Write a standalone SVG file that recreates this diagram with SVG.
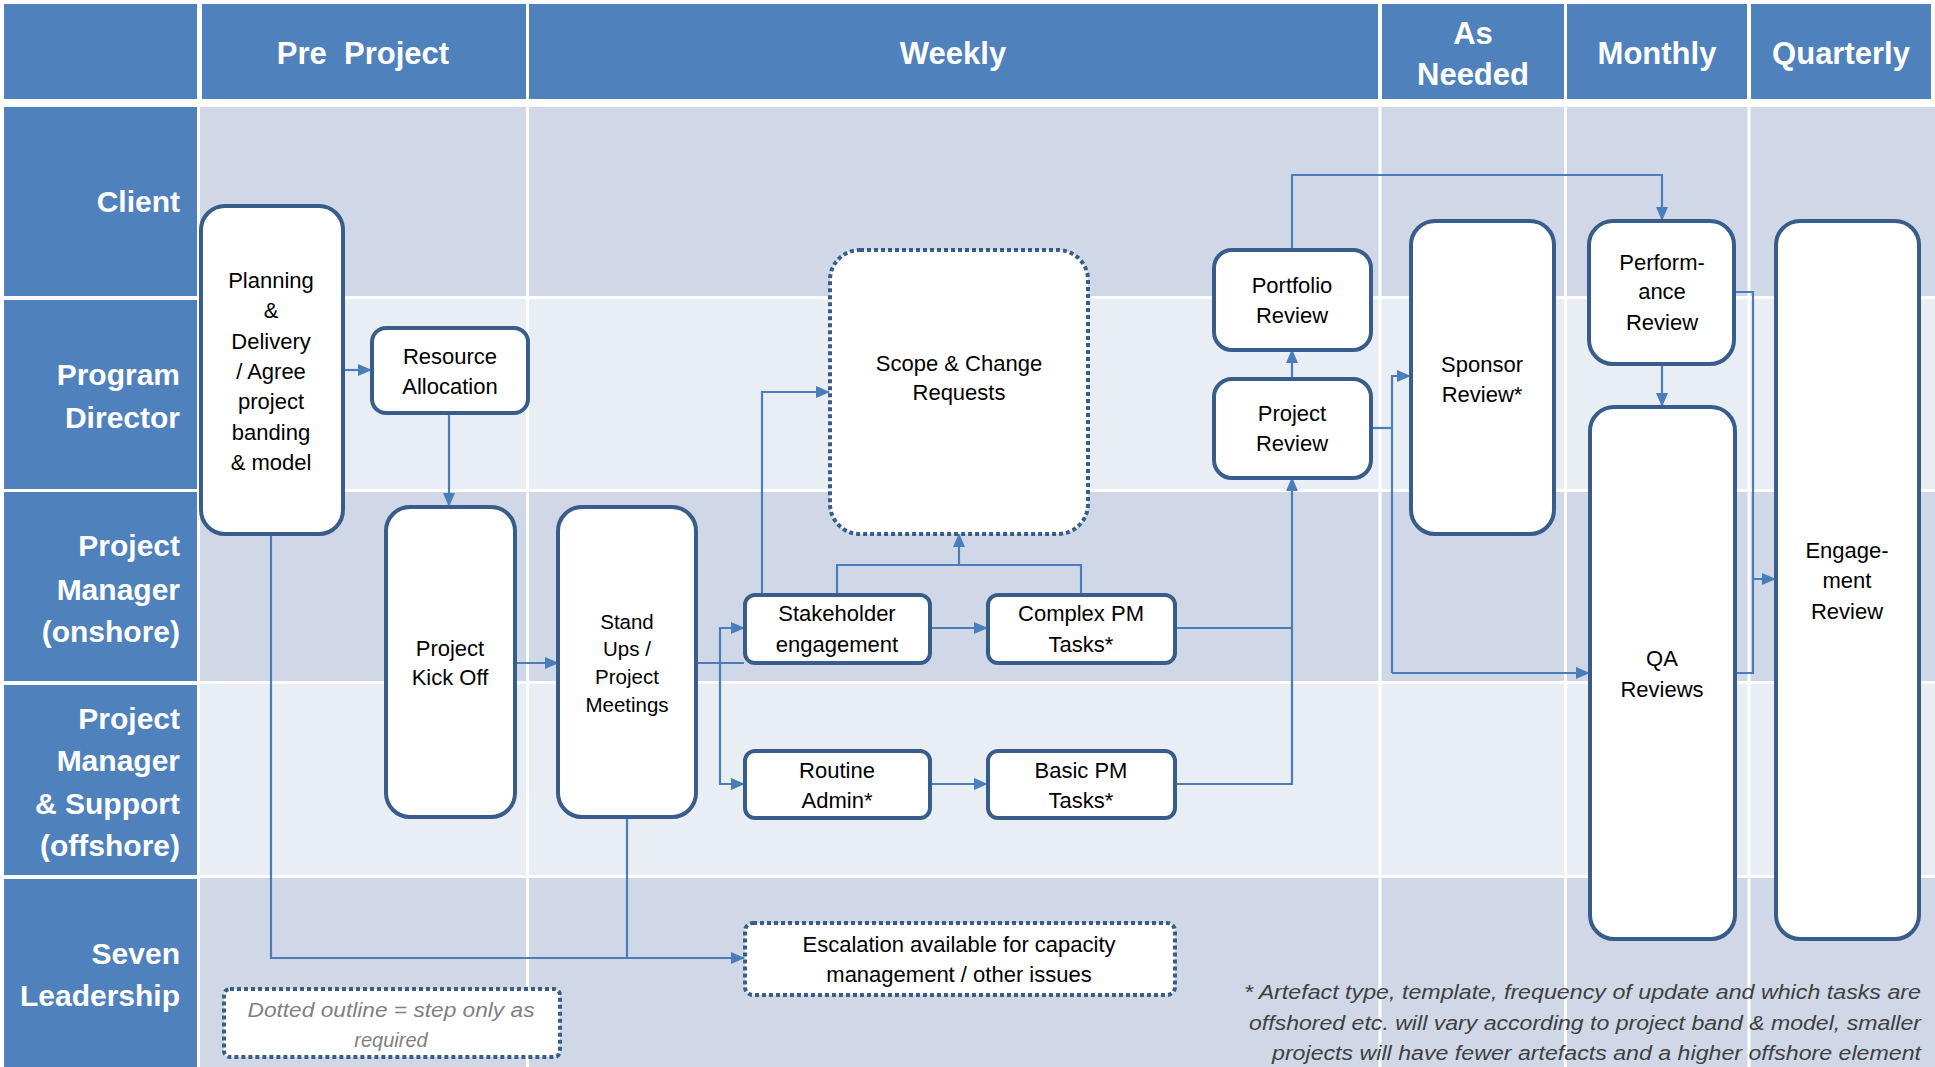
<svg xmlns="http://www.w3.org/2000/svg" width="1935" height="1067" viewBox="0 0 1935 1067">
<defs>
<style>
.hdr{fill:#4F81BD}
.dk{fill:#D0D8E8}
.lt{fill:#E9EDF4}
.ht{font-family:"Liberation Sans",Arial,sans-serif;font-weight:bold;font-size:31px;fill:#fff;text-anchor:middle}
.rl{font-family:"Liberation Sans",Arial,sans-serif;font-weight:bold;font-size:30px;fill:#fff;text-anchor:end}
.box{fill:#fff;stroke:#385D8A;stroke-width:4}
.dot{fill:#fff;stroke:#385D8A;stroke-width:4;stroke-dasharray:4 3}
.nt{font-family:"Liberation Sans",Arial,sans-serif;font-size:22px;fill:#000;text-anchor:middle}
.sm{font-size:20.5px}
.con{fill:none;stroke:#4A7EBB;stroke-width:2.2}
.note{font-family:"Liberation Sans",Arial,sans-serif;font-style:italic;font-size:20px;fill:#404040;text-anchor:end}
.leg{font-family:"Liberation Sans",Arial,sans-serif;font-style:italic;font-size:20px;fill:#808080;text-anchor:middle}
</style>
<marker id="ah" markerUnits="userSpaceOnUse" markerWidth="14" markerHeight="14" viewBox="0 0 14 14" refX="13" refY="7" orient="auto">
<path d="M0,1 L14,7 L0,13 z" fill="#4A7EBB"/>
</marker>
</defs>
<rect width="1935" height="1067" fill="#fff"/>
<g id="grid">
<rect class="hdr" x="4" y="4" width="193" height="95"/>
<rect class="hdr" x="202" y="4" width="324" height="95"/>
<rect class="hdr" x="529" y="4" width="849" height="95"/>
<rect class="hdr" x="1382" y="4" width="182" height="95"/>
<rect class="hdr" x="1567" y="4" width="180" height="95"/>
<rect class="hdr" x="1751" y="4" width="180" height="95"/>
<rect class="hdr" x="4" y="107" width="193" height="189"/>
<rect class="hdr" x="4" y="300" width="193" height="189"/>
<rect class="hdr" x="4" y="492" width="193" height="189"/>
<rect class="hdr" x="4" y="685" width="193" height="190"/>
<rect class="hdr" x="4" y="879" width="193" height="188"/>
<rect class="dk" x="200" y="107" width="1735" height="189"/>
<rect class="lt" x="200" y="299" width="1735" height="190"/>
<rect class="dk" x="200" y="492" width="1735" height="189"/>
<rect class="lt" x="200" y="684" width="1735" height="191"/>
<rect class="dk" x="200" y="878" width="1735" height="189"/>
<g stroke="#fff" stroke-width="3">
<line x1="527.5" y1="107" x2="527.5" y2="1067"/>
<line x1="1380" y1="107" x2="1380" y2="1067"/>
<line x1="1565.5" y1="107" x2="1565.5" y2="1067"/>
<line x1="1749" y1="107" x2="1749" y2="1067"/>
</g>
<text class="ht" x="363" y="64" xml:space="preserve" style="white-space:pre">Pre  Project</text>
<text class="ht" x="953" y="64">Weekly</text>
<text class="ht" x="1473" y="44">As</text>
<text class="ht" x="1473" y="85">Needed</text>
<text class="ht" x="1657" y="64">Monthly</text>
<text class="ht" x="1841" y="64">Quarterly</text>
<text class="rl" x="180" y="212">Client</text>
<text class="rl" x="180" y="385">Program</text>
<text class="rl" x="180" y="428">Director</text>
<text class="rl" x="180" y="556">Project</text>
<text class="rl" x="180" y="600">Manager</text>
<text class="rl" x="180" y="642">(onshore)</text>
<text class="rl" x="180" y="729">Project</text>
<text class="rl" x="180" y="771">Manager</text>
<text class="rl" x="180" y="814">&amp; Support</text>
<text class="rl" x="180" y="856">(offshore)</text>
<text class="rl" x="180" y="964">Seven</text>
<text class="rl" x="180" y="1006">Leadership</text>
</g>
<g id="connectors">
<path class="con" marker-end="url(#ah)" d="M343,370 H371"/>
<path class="con" marker-end="url(#ah)" d="M449,413 V506"/>
<path class="con" marker-end="url(#ah)" d="M515,663 H558"/>
<path class="con" d="M696,663 H744"/>
<path class="con" marker-end="url(#ah)" d="M720,663 V628 H744"/>
<path class="con" marker-end="url(#ah)" d="M720,663 V784 H744"/>
<path class="con" marker-end="url(#ah)" d="M762,594 V392 H829"/>
<path class="con" d="M837,594 V565 H1081 V594"/>
<path class="con" marker-end="url(#ah)" d="M959,565 V534"/>
<path class="con" marker-end="url(#ah)" d="M930,628 H987"/>
<path class="con" marker-end="url(#ah)" d="M930,784 H987"/>
<path class="con" d="M1175,628 H1292"/>
<path class="con" marker-end="url(#ah)" d="M1175,784 H1292 V478"/>
<path class="con" marker-end="url(#ah)" d="M1292,378 V350"/>
<path class="con" marker-end="url(#ah)" d="M1292,249 V175 H1662 V220"/>
<path class="con" d="M1371,428 H1392"/>
<path class="con" marker-end="url(#ah)" d="M1392,673 V376 H1410"/>
<path class="con" marker-end="url(#ah)" d="M1392,673 H1589"/>
<path class="con" marker-end="url(#ah)" d="M1662,364 V406"/>
<path class="con" marker-end="url(#ah)" d="M1734,292 H1753 V579 H1775"/>
<path class="con" d="M1735,673 H1753 V579"/>
<path class="con" marker-end="url(#ah)" d="M271,534 V958 H744"/>
<path class="con" d="M627,817 V958"/>
</g>
<g id="planning">
<rect class="box" x="201" y="206" width="142" height="328" rx="24"/>
<text class="nt" x="271" y="288">Planning</text>
<text class="nt" x="271" y="318">&amp;</text>
<text class="nt" x="271" y="349">Delivery</text>
<text class="nt" x="271" y="379">/ Agree</text>
<text class="nt" x="271" y="409">project</text>
<text class="nt" x="271" y="440">banding</text>
<text class="nt" x="271" y="470">&amp; model</text>
</g>
<g id="resource">
<rect class="box" x="372" y="328" width="156" height="85" rx="14"/>
<text class="nt" x="450" y="364">Resource</text>
<text class="nt" x="450" y="394">Allocation</text>
</g>
<g id="kickoff">
<rect class="box" x="386" y="507" width="129" height="310" rx="24"/>
<text class="nt" x="450" y="656">Project</text>
<text class="nt" x="450" y="685">Kick Off</text>
</g>
<g id="standups">
<rect class="box" x="558" y="507" width="138" height="310" rx="24"/>
<text class="nt sm" x="627" y="629">Stand</text>
<text class="nt sm" x="627" y="656">Ups /</text>
<text class="nt sm" x="627" y="684">Project</text>
<text class="nt sm" x="627" y="712">Meetings</text>
</g>
<g id="scope">
<rect class="dot" x="830" y="250" width="258" height="284" rx="30"/>
<text class="nt" x="959" y="371">Scope &amp; Change</text>
<text class="nt" x="959" y="400">Requests</text>
</g>
<g id="stakeholder">
<rect class="box" x="745" y="595" width="185" height="68" rx="10"/>
<text class="nt" x="837" y="621">Stakeholder</text>
<text class="nt" x="837" y="652">engagement</text>
</g>
<g id="complex">
<rect class="box" x="988" y="595" width="187" height="68" rx="10"/>
<text class="nt" x="1081" y="621">Complex PM</text>
<text class="nt" x="1081" y="652">Tasks*</text>
</g>
<g id="routine">
<rect class="box" x="745" y="751" width="185" height="67" rx="10"/>
<text class="nt" x="837" y="778">Routine</text>
<text class="nt" x="837" y="808">Admin*</text>
</g>
<g id="basic">
<rect class="box" x="988" y="751" width="187" height="67" rx="10"/>
<text class="nt" x="1081" y="778">Basic PM</text>
<text class="nt" x="1081" y="808">Tasks*</text>
</g>
<g id="escalation">
<rect class="dot" x="745" y="923" width="430" height="72" rx="8"/>
<text class="nt" x="959" y="952">Escalation available for capacity</text>
<text class="nt" x="959" y="982">management / other issues</text>
</g>
<g id="portfolio">
<rect class="box" x="1214" y="250" width="157" height="100" rx="18"/>
<text class="nt" x="1292" y="293">Portfolio</text>
<text class="nt" x="1292" y="323">Review</text>
</g>
<g id="projectreview">
<rect class="box" x="1214" y="379" width="157" height="99" rx="18"/>
<text class="nt" x="1292" y="421">Project</text>
<text class="nt" x="1292" y="451">Review</text>
</g>
<g id="sponsor">
<rect class="box" x="1411" y="221" width="143" height="313" rx="24"/>
<text class="nt" x="1482" y="372">Sponsor</text>
<text class="nt" x="1482" y="402">Review*</text>
</g>
<g id="performance">
<rect class="box" x="1589" y="221" width="145" height="143" rx="24"/>
<text class="nt" x="1662" y="270">Perform-</text>
<text class="nt" x="1662" y="299">ance</text>
<text class="nt" x="1662" y="330">Review</text>
</g>
<g id="qa">
<rect class="box" x="1590" y="407" width="145" height="532" rx="24"/>
<text class="nt" x="1662" y="666">QA</text>
<text class="nt" x="1662" y="697">Reviews</text>
</g>
<g id="engagement">
<rect class="box" x="1776" y="221" width="143" height="718" rx="24"/>
<text class="nt" x="1847" y="558">Engage-</text>
<text class="nt" x="1847" y="588">ment</text>
<text class="nt" x="1847" y="619">Review</text>
</g>
<g id="legend">
<rect class="dot" x="224" y="989" width="336" height="68" rx="6"/>
<text class="leg" x="391" y="1017" textLength="287" lengthAdjust="spacingAndGlyphs">Dotted outline = step only as</text>
<text class="leg" x="391" y="1047">required</text>
</g>
<g id="footnote">
<text class="note" x="1921" y="999" textLength="677" lengthAdjust="spacingAndGlyphs">* Artefact type, template, frequency of update and which tasks are</text>
<text class="note" x="1921" y="1030" textLength="672" lengthAdjust="spacingAndGlyphs">offshored etc. will vary according to project band &amp; model, smaller</text>
<text class="note" x="1921" y="1060" textLength="649" lengthAdjust="spacingAndGlyphs">projects will have fewer artefacts and a higher offshore element</text>
</g>
</svg>
